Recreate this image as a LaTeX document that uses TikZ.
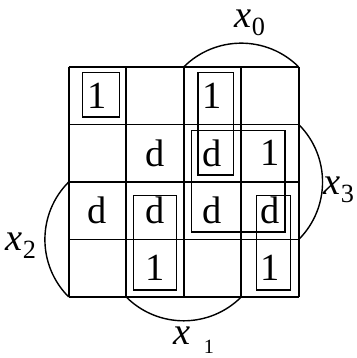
\documentclass[tikz,border=0pt]{standalone}
\usepackage{fontspec}
\setmainfont{Liberation Serif}
\usepackage{tikz}

\newcommand{\kvar}[1]{\textit{x}\raisebox{-0.45ex}{\fontsize{13}{13}\selectfont #1}}

\begin{document}
\begin{tikzpicture}[cell/.style={font=\rmfamily\fontsize{19}{21}\selectfont,inner sep=0pt}, loop/.style={line width=0.6pt}]
  \useasboundingbox (-1.195,-1.061) rectangle (5.004,5.165);
  \draw[line width=0.9pt] (0,0) grid (4,4);
  % cell entries, row by row from the top
  \foreach \r/\row in {1/{1,,1,},2/{,d,d,1},3/{d,d,d,d},4/{,1,,1}} {
    \foreach \v [count=\c] in \row {
      \node[cell] (c\r\c) at (\c-0.5,4.5-\r) {\v};
    }
  }
  % loops
  \draw[loop] (0.24,3.13) rectangle (0.88,3.90);
  \draw[loop] (2.25,2.12) rectangle (2.87,3.90);
  \draw[loop] (2.13,1.13) rectangle (3.76,2.89);
  \draw[loop] (1.13,0.12) rectangle (1.87,1.76);
  \draw[loop] (3.26,0.12) rectangle (3.86,1.76);
  % variable arcs
  \draw[line width=0.7pt] (4,4) arc (45:135:1.4142);
  \draw[line width=0.7pt] (4,1) arc (-45:45:1.4142);
  \draw[line width=0.7pt] (0,2) arc (135:225:1.4142);
  \draw[line width=0.7pt] (1,0) arc (225:315:1.4142);
  \node[cell] (x0) at (3.15,4.77) {\kvar{0}};
  \node[cell] (x3) at (4.70,1.86) {\kvar{3}};
  \node[cell] (x2) at (-0.83,0.90) {\kvar{2}};
  \node[cell] (x1) at (1.97,-0.68) {\textit{x}};
  \node[cell,font=\rmfamily\fontsize{10}{10}\selectfont] (x1s) at (2.44,-0.87) {1};
\end{tikzpicture}
\end{document}
